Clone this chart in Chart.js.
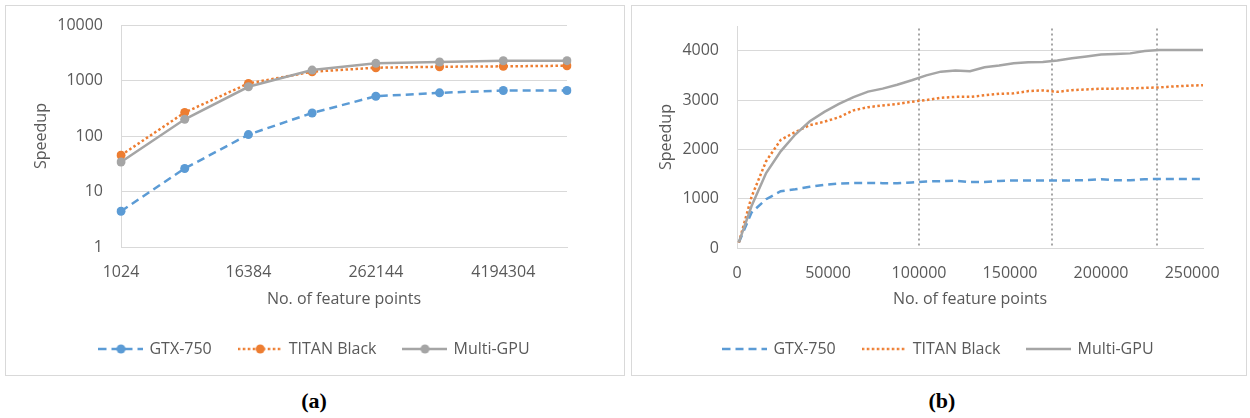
<!DOCTYPE html>
<html>
<head>
<meta charset="utf-8">
<script src="https://cdn.jsdelivr.net/npm/chart.js@4.4.1/dist/chart.umd.min.js"></script>
<style>
  body { margin: 0; background: #fff; width: 1250px; height: 418px; position: relative; overflow: hidden; }
  .box { position: absolute; top: 5px; border: 1px solid #d9d9d9; height: 369px; }
  .cap { position: absolute; top: 388px; width: 100px; text-align: center;
         font-family: 'Liberation Serif', serif; font-weight: bold; font-size: 22px; color: #000; }
</style>
</head>
<body>
<div class="box" style="left:5px; width:618px;"><canvas id="chartA" width="618" height="369"></canvas></div>
<div class="box" style="left:631px; width:614px;"><canvas id="chartB" width="614" height="369"></canvas></div>
<div class="cap" style="left:264px;">(a)</div>
<div class="cap" style="left:892px;">(b)</div>
<script>
// (a) log-scale speedup vs feature points
const sizesA = ['1024', '4096', '16384', '65536', '262144', '1048576', '4194304', '16777216'];
const gtxA = [4.4, 26, 106, 260, 520, 600, 660, 660];
const titanA = [45, 265, 886, 1440, 1700, 1770, 1800, 1845];
const multiA = [34, 200, 770, 1540, 2040, 2150, 2270, 2275];
const yTicksA = [1, 10, 100, 1000, 10000];

// (b) linear speedup vs feature points
const pointsB = [1000, 8000, 16000, 24000, 32000, 40000, 48000, 56000, 64000, 72000, 80000,
  88000, 96000, 104000, 112000, 120000, 128000, 136000, 144000, 152000, 160000, 168000,
  176000, 184000, 192000, 200000, 208000, 216000, 224000, 232000, 240000, 248000, 256000];
const gtxB = [110, 720, 990, 1150, 1190, 1240, 1280, 1305, 1315, 1318, 1315, 1315, 1330, 1350, 1355,
  1365, 1335, 1340, 1360, 1370, 1370, 1370, 1370, 1370, 1375, 1395, 1372, 1372, 1395, 1398, 1398, 1398, 1398];
const titanB = [110, 1040, 1760, 2190, 2350, 2490, 2560, 2650, 2790, 2855, 2890, 2920, 2965, 3000, 3045,
  3064, 3064, 3095, 3125, 3135, 3180, 3195, 3165, 3200, 3215, 3230, 3230, 3235, 3245, 3255, 3275, 3290, 3300];
const multiB = [115, 850, 1520, 1960, 2300, 2570, 2760, 2920, 3060, 3170, 3230, 3310, 3400, 3500, 3575,
  3600, 3585, 3665, 3700, 3745, 3765, 3770, 3800, 3845, 3880, 3920, 3930, 3945, 3995, 4012, 4015, 4015, 4015];
const xTicksB = [0, 50000, 100000, 150000, 200000, 250000];
const yTicksB = [0, 1000, 2000, 3000, 4000];
const markerX = [100000, 173000, 231000];
const markerTop = 4450;

const seriesNames = ['GTX-750', 'TITAN Black', 'Multi-GPU'];
const colors = ['#5b9bd5', '#ed7d31', '#a5a5a5'];
const dashes = [[8, 5], [2.5, 2.5], []];

Chart.defaults.font.family = "'Open Sans', sans-serif";
Chart.defaults.font.size = 16;
Chart.defaults.color = '#595959';
Chart.defaults.animation = false;

const GRID = '#d9d9d9';

// little line(+dot) swatch for the legend
function swatch(i, withDot) {
  const c = document.createElement('canvas');
  c.width = 45; c.height = 12;
  const g = c.getContext('2d');
  g.strokeStyle = colors[i];
  g.lineWidth = 2.5;
  g.setLineDash(dashes[i]);
  g.beginPath(); g.moveTo(0, 6); g.lineTo(45, 6); g.stroke();
  if (withDot) {
    g.fillStyle = colors[i];
    g.beginPath(); g.arc(22.5, 6, 4.5, 0, Math.PI * 2); g.fill();
  }
  return c;
}

function legendOpts(withDot) {
  return {
    position: 'bottom',
    labels: {
      usePointStyle: true,
      pointStyleWidth: 41,
      padding: 28,
      color: '#595959',
      generateLabels: (chart) => chart.data.datasets.map((ds, i) => ({
        text: ds.label,
        pointStyle: swatch(i, withDot),
        fontColor: '#595959',
        lineWidth: 0,
        hidden: false,
        datasetIndex: i
      }))
    }
  };
}

// empty right-hand axis, just to reserve space so the legend stays centred in the box
function spacer(w) {
  return {
    position: 'right',
    display: true,
    ticks: { display: false },
    grid: { display: false, drawTicks: false },
    border: { display: false },
    afterFit: (s) => { s.width = w; }
  };
}

// y grid: invisible tick marks give the label gap without inflating the layout padding
const yGrid = { color: GRID, drawTicks: true, tickLength: 18, tickColor: 'rgba(0,0,0,0)' };

const dottedMarkers = {
  id: 'dottedMarkers',
  beforeDatasetsDraw(chart) {
    const { ctx, scales: { x, y } } = chart;
    ctx.save();
    ctx.strokeStyle = '#a6a6a6';
    ctx.lineWidth = 2;
    ctx.setLineDash([2, 3]);
    markerX.forEach(v => {
      const px = Math.round(x.getPixelForValue(v));
      ctx.beginPath();
      ctx.moveTo(px, y.getPixelForValue(markerTop));
      ctx.lineTo(px, y.getPixelForValue(0));
      ctx.stroke();
    });
    ctx.restore();
  }
};

new Chart(document.getElementById('chartA'), {
  type: 'line',
  data: {
    labels: sizesA,
    datasets: [gtxA, titanA, multiA].map((d, i) => ({
      label: seriesNames[i],
      data: d,
      borderColor: colors[i],
      backgroundColor: colors[i],
      borderWidth: 2.5,
      borderDash: dashes[i],
      pointRadius: 4.5,
      pointBorderWidth: 0,
      tension: 0,
      order: 2 - i
    }))
  },
  options: {
    responsive: false,
    layout: { padding: { top: 19, right: 0, left: 0, bottom: 8 } },
    plugins: { legend: legendOpts(true), tooltip: { enabled: false } },
    scales: {
      x: {
        grid: { display: false },
        border: { display: true, color: GRID },
        ticks: {
          padding: 8, autoSkip: false, maxRotation: 0,
          callback: (v, i) => (i % 2 === 0 ? sizesA[i] : '')
        },
        title: { display: true, text: 'No. of feature points', padding: { top: 0, bottom: 4.4 } },
        afterFit: (s) => { s.height = 66; }
      },
      y: {
        type: 'logarithmic',
        min: 1, max: 10000,
        grid: yGrid,
        border: { display: true, color: GRID },
        ticks: { padding: 0, callback: (v) => String(v) },
        afterBuildTicks: (s) => { s.ticks = yTicksA.map(v => ({ value: v })); },
        title: { display: true, text: 'Speedup', padding: { top: 26, bottom: 0 } },
        afterFit: (s) => { s.width = 115; }
      },
      pad: spacer(57)
    }
  }
});

new Chart(document.getElementById('chartB'), {
  type: 'line',
  data: {
    datasets: [gtxB, titanB, multiB].map((d, i) => ({
      label: seriesNames[i],
      data: d.map((v, k) => ({ x: pointsB[k], y: v })),
      borderColor: colors[i],
      backgroundColor: colors[i],
      borderWidth: 2.5,
      borderDash: dashes[i],
      pointRadius: 0,
      tension: 0,
      order: 2 - i
    }))
  },
  options: {
    responsive: false,
    layout: { padding: { top: 20, right: 0, left: 0, bottom: 8 } },
    plugins: { legend: legendOpts(false), tooltip: { enabled: false } },
    scales: {
      x: {
        type: 'linear',
        min: 0, max: 256000,
        grid: { display: false },
        border: { display: true, color: GRID },
        ticks: { padding: 8, maxRotation: 0, callback: (v) => String(v) },
        afterBuildTicks: (s) => { s.ticks = xTicksB.map(v => ({ value: v })); },
        title: { display: true, text: 'No. of feature points', padding: { top: 0, bottom: 4.4 } },
        afterFit: (s) => { s.height = 65; }
      },
      y: {
        min: 0, max: 4500,
        grid: yGrid,
        border: { display: true, color: GRID },
        ticks: { padding: 0, callback: (v) => String(v) },
        afterBuildTicks: (s) => { s.ticks = yTicksB.map(v => ({ value: v })); },
        title: { display: true, text: 'Speedup', padding: { top: 25, bottom: 0 } },
        afterFit: (s) => { s.width = 105; }
      },
      pad: spacer(43)
    }
  },
  plugins: [dottedMarkers]
});
</script>
</body>
</html>
